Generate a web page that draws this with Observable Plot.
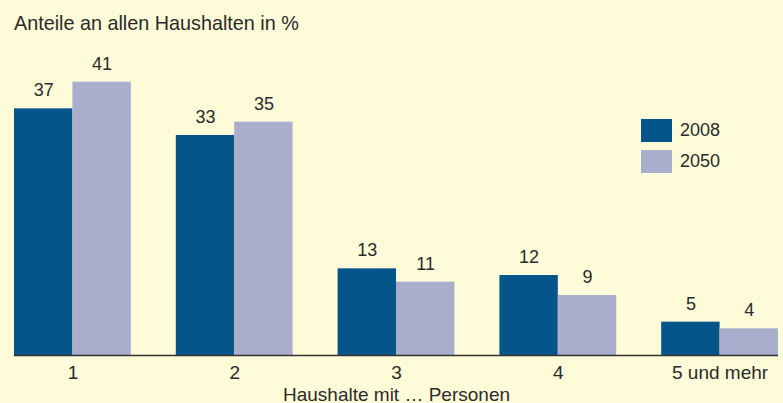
<!DOCTYPE html>
<html>
<head>
<meta charset="utf-8">
<script src="https://cdn.jsdelivr.net/npm/d3@7"></script>
<script src="https://cdn.jsdelivr.net/npm/@observablehq/plot@0.6"></script>
<style>
  html, body { margin: 0; padding: 0; background: #fefbd8; }
  #wrap { position: relative; width: 783px; height: 403px; font-family: "Liberation Sans", Arial, sans-serif; color: #2b2b2b; }
  #title { position: absolute; left: 14px; top: 11px; font-size: 19.8px; line-height: 24px; white-space: nowrap; }
  .leg { position: absolute; left: 641px; display: flex; align-items: center; font-size: 18px; }
  .sw { width: 31px; height: 23px; margin-right: 8px; }
</style>
</head>
<body>
<div id="wrap">
  <div id="title">Anteile an allen Haushalten in %</div>
</div>
<script>
const categories = ["1", "2", "3", "4", "5 und mehr"];
const years = ["2008", "2050"];
const values2008 = [37, 33, 13, 12, 5];
const values2050 = [41, 35, 11, 9, 4];
const colors = ["#05548a", "#a8aecb"];

const W = 783, H = 403;
const mL = 14, mR = 5, mT = 55, mB = 48;
const padInner = 0.278;
const step = (W - mL - mR) / (categories.length - padInner);
const bw = step * (1 - padInner);
const half = bw / 2;

const d08 = categories.map((c, i) => ({cat: c, v: values2008[i]}));
const d50 = categories.map((c, i) => ({cat: c, v: values2050[i]}));

const plot = Plot.plot({
  width: W, height: H,
  marginLeft: mL, marginRight: mR, marginTop: mT, marginBottom: mB,
  style: {background: "#fefbd8", fontFamily: "'Liberation Sans', Arial, sans-serif", color: "#2b2b2b", fontSize: "19px"},
  x: {domain: categories, paddingInner: padInner, paddingOuter: 0, round: false, label: null},
  y: {domain: [0, 45], axis: null},
  marks: [
    Plot.barY(d08, {x: "cat", y: "v", fill: colors[0], insetRight: half, insetLeft: 0}),
    Plot.barY(d50, {x: "cat", y: "v", fill: colors[1], insetLeft: half, insetRight: 0}),
    Plot.text(d08, {x: "cat", y: "v", text: d => String(d.v), dx: -half / 2, dy: -12.5, lineAnchor: "bottom", fontSize: 18, fill: "#2b2b2b"}),
    Plot.text(d50, {x: "cat", y: "v", text: d => String(d.v), dx: half / 2, dy: -12.5, lineAnchor: "bottom", fontSize: 18, fill: "#2b2b2b"}),
    Plot.ruleY([0], {stroke: "#333", strokeWidth: 1.4}),
    Plot.axisX({tickSize: 0, tickPadding: 9.5, fontSize: 19, label: "Haushalte mit … Personen", labelAnchor: "center", labelOffset: 45, fill: "#2b2b2b"})
  ]
});
const wrap = document.getElementById("wrap");
wrap.insertBefore(plot, wrap.firstChild);

years.forEach((y, i) => {
  const el = document.createElement("div");
  el.className = "leg";
  el.style.top = (119 + i * 31) + "px";
  el.innerHTML = `<div class="sw" style="background:${colors[i]}"></div><span>${y}</span>`;
  wrap.appendChild(el);
});
</script>
</body>
</html>
